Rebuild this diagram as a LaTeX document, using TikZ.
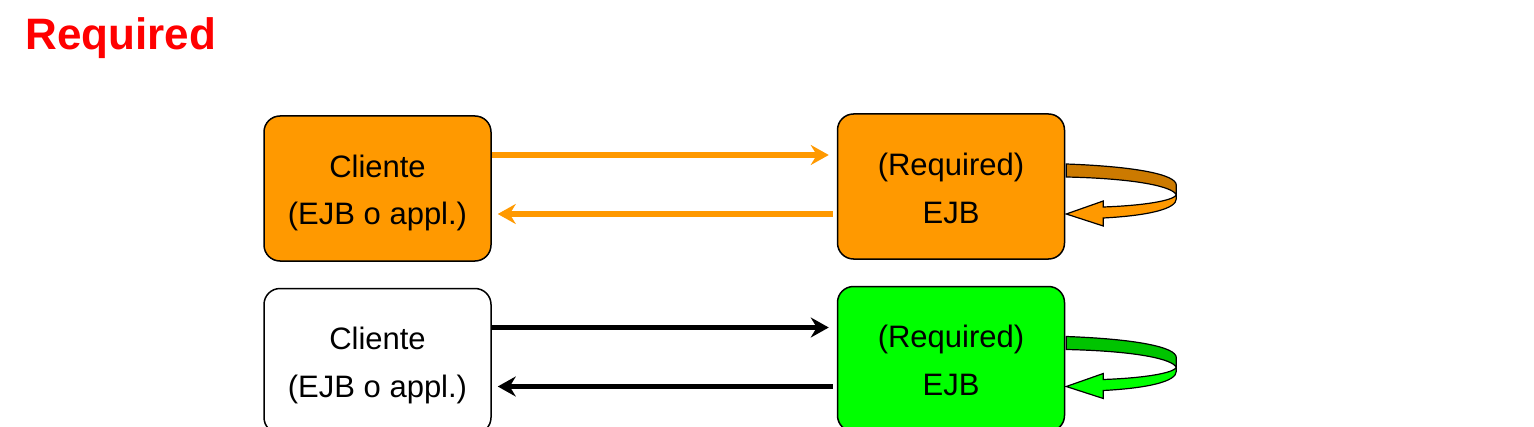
\documentclass[tikz,border=0pt]{standalone}
\usepackage{fontspec}
\setmainfont{Liberation Sans}
\usetikzlibrary{
  arrows.meta,
  calc,
  positioning,
}
\definecolor{ejborange}{RGB}{255, 153, 0}
\definecolor{ejborangedark}{RGB}{204, 122, 0}
\definecolor{ejbgreen}{RGB}{0, 255, 0}
\definecolor{ejbgreendark}{RGB}{0, 196, 0}
\tikzstyle{box} = [
  draw,
  rectangle,
  rounded corners=8pt,
  line width=0.75pt,
  minimum width=113.5pt,
  minimum height=72.5pt,
  align=center,
  font=\fontsize{15.5}{24}\selectfont,
]
\tikzstyle{call} = [
  -{Stealth[length=9pt,width=10pt,inset=3pt]},
  line width=2.75pt,
]
\newcommand{\lstrut}{\rule[-5.75pt]{0pt}{24pt}}
% self call: back band, then front band with tip
\newcommand{\selfcall}[3]{
  \begin{scope}[shift={(#1.east)}]
    \filldraw[fill=#3,line width=0.6pt] (1,22.5) .. controls (70,20) and (111,12) .. (111,1.5)
      -- (111,-8.5) .. controls (108,0) and (70,8) .. (1,9.5) -- cycle;
    \filldraw[fill=#2,line width=0.6pt] (111,-8.5) .. controls (108,-14) and (80,-19) .. (38,-20.5)
      -- (38,-14.5) -- (1,-27.5) -- (38,-39.5) -- (38,-31.5)
      .. controls (85,-29) and (111,-22) .. (111,-12.5) -- cycle;
  \end{scope}
}

\begin{document}
\begin{tikzpicture}[x=0.5pt,y=0.5pt,node distance=13pt and 172.5pt]
    \useasboundingbox (0,0) rectangle (1534,-427);

    \node[anchor=base west,inner sep=0pt,text=red,font=\fontsize{22}{26}\selectfont\bfseries] (title) at (25,-50) {Required};

    \node[box,fill=ejborange] (cl1) at (377.5,-188.5) {Cliente\lstrut\\(EJB o appl.)\lstrut};
    \node[box,fill=ejborange,yshift=1pt] (rq1) [right=of cl1] {(Required)\lstrut\\EJB\lstrut};
    \node[box] (cl2) [below=of cl1] {Cliente\lstrut\\(EJB o appl.)\lstrut};
    \node[box,fill=ejbgreen,yshift=1pt] (rq2) [right=of cl2] {(Required)\lstrut\\EJB\lstrut};

    \draw[call,ejborange,shorten >=4pt] ([yshift=16.75pt]cl1.east) coordinate (go1) -- (go1 -| rq1.west);
    \draw[call,ejborange,shorten <=2pt,shorten >=3pt] ([yshift=-12.75pt]cl1.east) coordinate (back1) (back1 -| rq1.west) -- (back1);
    \draw[call,shorten >=4pt] ([yshift=16.75pt]cl2.east) coordinate (go2) -- (go2 -| rq2.west);
    \draw[call,shorten <=2pt,shorten >=3pt] ([yshift=-12.75pt]cl2.east) coordinate (back2) (back2 -| rq2.west) -- (back2);

    \selfcall{rq1}{ejborange}{ejborangedark}
    \selfcall{rq2}{ejbgreen}{ejbgreendark}
\end{tikzpicture}
\end{document}
